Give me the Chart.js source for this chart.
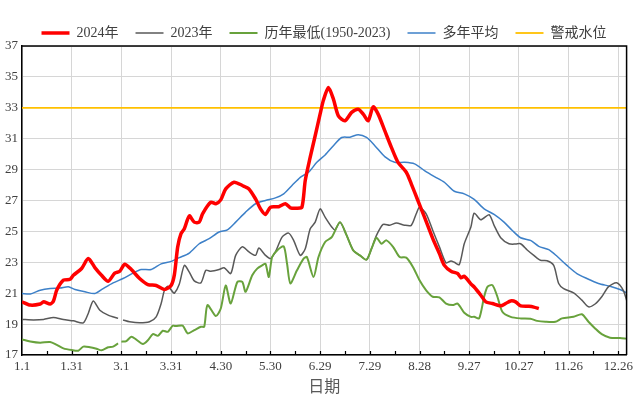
<!DOCTYPE html>
<html>
<head>
<meta charset="utf-8">
<script src="https://cdn.jsdelivr.net/npm/chart.js@4/dist/chart.umd.min.js"></script>
<style>
html, body { margin: 0; padding: 0; background: #fff; }
</style>
</head>
<body>
<canvas id="c" width="637" height="419"></canvas>
<script>
// x = day of year (0 = 1.1, leap year), values in metres
var tickLabels = ['1.1', '1.31', '3.1', '3.31', '4.30', '5.30', '6.29', '7.29', '8.28', '9.27', '10.27', '11.26', '12.26'];
var seriesNames = ['2024年', '2023年', '历年最低(1950-2023)', '多年平均', '警戒水位'];

var days2024 = [0, 5, 11, 13, 17, 19, 21, 25, 29, 31, 36, 40, 44, 48, 52, 56, 59, 62, 66, 71, 76, 81, 86, 90, 92, 94, 96, 98, 101, 104, 107, 109, 114, 117, 120, 123, 128, 133, 137, 141, 144, 147, 150, 155, 159, 162, 166, 169, 171, 174, 177, 180, 182, 185, 188, 191, 195, 199, 203, 206, 209, 212, 215, 219, 223, 227, 232, 235, 239, 243, 248, 252, 255, 259, 263, 265, 267, 271, 273, 277, 280, 284, 289, 292, 295, 298, 301, 306, 309, 312];
var level2024 = [20.44, 20.23, 20.3, 20.44, 20.3, 20.5, 21.2, 21.84, 21.9, 22.16, 22.6, 23.24, 22.66, 22.16, 21.77, 22.3, 22.42, 22.87, 22.53, 21.95, 21.56, 21.5, 21.24, 21.5, 22.2, 24.0, 24.85, 25.17, 26.0, 25.6, 25.6, 26.14, 26.89, 26.79, 27.04, 27.75, 28.18, 27.97, 27.75, 27.1, 26.46, 26.1, 26.57, 26.6, 26.79, 26.53, 26.5, 26.57, 28.29, 29.8, 31.19, 32.6, 33.5, 34.31, 33.56, 32.48, 32.16, 32.7, 32.91, 32.59, 32.16, 33.06, 32.59, 31.52, 30.44, 29.47, 28.83, 28.08, 27.0, 25.92, 24.53, 23.56, 22.8, 22.42, 22.27, 22.0, 22.1, 21.6, 21.4, 20.87, 20.44, 20.33, 20.18, 20.33, 20.5, 20.44, 20.18, 20.15, 20.1, 20.0];

var days2023 = [0, 7, 13, 19, 25, 31, 37, 40, 43, 47, 52, 58, 59, 61, 65, 71, 77, 81, 84, 86, 88, 91, 92, 95, 98, 101, 104, 108, 111, 114, 119, 122, 126, 129, 133, 137, 141, 143, 147, 150, 153, 157, 161, 164, 168, 171, 174, 177, 180, 183, 187, 189, 192, 196, 200, 204, 208, 211, 214, 218, 222, 226, 231, 235, 238, 240, 244, 248, 252, 256, 259, 261, 264, 267, 271, 273, 277, 282, 285, 289, 294, 298, 301, 305, 309, 313, 317, 321, 324, 327, 333, 338, 342, 346, 350, 354, 359, 363, 365];
var level2023 = [19.3, 19.27, 19.3, 19.43, 19.3, 19.21, 19.08, 19.69, 20.5, 19.9, 19.58, 19.37, null, 19.27, 19.15, 19.08, 19.15, 19.47, 20.33, 21.19, 21.45, 21.08, 21.0, 21.6, 22.8, 22.37, 21.8, 21.67, 22.48, 22.42, 22.53, 22.65, 22.27, 23.45, 24.0, 23.67, 23.45, 23.92, 23.45, 23.24, 23.67, 24.63, 24.89, 24.42, 23.45, 23.88, 25.17, 25.6, 26.46, 25.92, 25.28, 25.1, 25.6, 24.74, 23.77, 23.45, 23.17, 23.88, 24.74, 25.45, 25.4, 25.54, 25.4, 25.39, 26.14, 26.57, 26.14, 25.06, 24.0, 22.96, 23.09, 23.0, 22.85, 24.2, 25.28, 26.18, 25.75, 26.08, 25.39, 24.59, 24.2, 24.18, 24.2, 23.8, 23.45, 23.13, 23.1, 22.8, 21.63, 21.3, 21.02, 20.55, 20.12, 20.3, 20.77, 21.41, 21.67, 21.19, 20.55];

var daysLow = [0, 5, 11, 17, 21, 25, 30, 34, 37, 41, 45, 48, 52, 55, 58, 59, 60, 63, 66, 69, 73, 76, 79, 82, 85, 88, 91, 93, 97, 100, 104, 108, 110, 112, 117, 120, 123, 126, 130, 133, 135, 139, 142, 145, 147, 149, 151, 154, 158, 160, 162, 166, 170, 172, 176, 179, 183, 187, 192, 196, 200, 204, 208, 211, 214, 217, 220, 224, 228, 232, 236, 240, 244, 248, 252, 256, 260, 263, 267, 271, 273, 276, 279, 281, 284, 287, 290, 295, 301, 307, 311, 316, 322, 326, 333, 338, 342, 346, 350, 355, 361, 365];
var levelLow = [18.01, 17.88, 17.8, 17.84, 17.65, 17.43, 17.32, 17.28, 17.54, 17.5, 17.4, 17.3, 17.5, 17.54, 17.75, null, 17.86, 17.9, 18.18, 18.0, 17.71, 17.95, 18.35, 18.24, 18.57, 18.5, 18.89, 18.87, 18.9, 18.4, 18.61, 18.83, 18.83, 20.23, 19.52, 20.01, 21.5, 20.33, 21.73, 21.73, 21.09, 22.16, 22.59, 22.8, 22.9, 22.05, 23.34, 23.77, 24.03, 22.92, 21.63, 22.48, 23.24, 23.34, 22.05, 23.34, 24.31, 24.63, 25.6, 24.74, 23.77, 23.45, 23.17, 23.88, 24.59, 24.2, 24.42, 24.0, 23.34, 23.3, 22.7, 21.84, 21.19, 20.77, 20.73, 20.33, 20.23, 20.33, 19.73, 19.47, 19.47, 19.37, 20.77, 21.41, 21.52, 20.77, 19.8, 19.47, 19.37, 19.35, 19.21, 19.15, 19.15, 19.37, 19.47, 19.64, 19.15, 18.72, 18.35, 18.12, 18.1, 18.06];

var daysAvg = [0, 5, 11, 17, 23, 28, 32, 38, 44, 49, 55, 61, 67, 72, 78, 84, 90, 95, 101, 107, 113, 119, 124, 129, 135, 141, 147, 153, 158, 163, 168, 173, 178, 183, 188, 193, 198, 203, 208, 213, 219, 225, 231, 237, 243, 249, 255, 261, 267, 273, 279, 285, 291, 296, 301, 307, 312, 318, 323, 329, 335, 341, 348, 355, 361, 365];
var levelAvg = [20.98, 20.95, 21.19, 21.3, 21.33, 21.41, 21.24, 21.09, 20.98, 21.3, 21.67, 21.95, 22.3, 22.53, 22.53, 22.9, 23.06, 23.3, 23.6, 24.2, 24.53, 24.96, 25.1, 25.6, 26.25, 26.79, 27.0, 27.17, 27.43, 27.97, 28.5, 28.83, 29.47, 29.95, 30.55, 31.08, 31.1, 31.26, 31.08, 30.55, 29.84, 29.47, 29.47, 29.37, 28.94, 28.55, 28.18, 27.6, 27.43, 27.07, 26.46, 26.1, 25.6, 25.06, 24.59, 24.42, 24.03, 23.82, 23.39, 22.8, 22.27, 21.95, 21.63, 21.45, 21.24, 21.02];

var daysAlert = [0, 365];
var levelAlert = [33, 33];

function pts(days, vals) {
  return days.map(function (d, i) { return { x: d, y: vals[i] }; });
}

var serif = "'Liberation Serif', 'Noto Sans CJK SC', serif";

// top + right frame and small inner ticks every 15 days
var framePlugin = {
  id: 'frame',
  afterLayout: function (chart) {
    // legend sits centred over the plot area, not the whole canvas
    if (chart.legend) {
      chart.legend.left += 8;
      chart.legend.right += 8;
    }
  },
  afterDraw: function (chart) {
    var a = chart.chartArea, ctx = chart.ctx, xs = chart.scales.x;
    ctx.save();
    ctx.strokeStyle = '#000';
    ctx.lineWidth = 1.5;
    ctx.beginPath();
    ctx.moveTo(a.left, a.top); ctx.lineTo(a.right, a.top); ctx.lineTo(a.right, a.bottom);
    ctx.stroke();
    ctx.lineWidth = 1.2;
    ctx.beginPath();
    for (var d = 15; d < 365; d += 15) {
      var px = Math.round(xs.getPixelForValue(d)) + 0.5;
      ctx.moveTo(px, a.bottom); ctx.lineTo(px, a.bottom - 4);
    }
    ctx.stroke();
    ctx.restore();
  }
};

var ctx = document.getElementById('c').getContext('2d');
var myChart = new Chart(ctx, {
  type: 'line',
  data: {
    datasets: [{
      label: seriesNames[0],
      data: pts(days2024, level2024),
      borderColor: '#ff0000',
      backgroundColor: '#ff0000',
      borderWidth: 3.5,
      order: 0
    }, {
      label: seriesNames[1],
      data: pts(days2023, level2023),
      borderColor: '#595959',
      backgroundColor: '#595959',
      borderWidth: 1.5,
      order: 2
    }, {
      label: seriesNames[2],
      data: pts(daysLow, levelLow),
      borderColor: '#68a23c',
      backgroundColor: '#68a23c',
      borderWidth: 2,
      order: 1
    }, {
      label: seriesNames[3],
      data: pts(daysAvg, levelAvg),
      borderColor: '#3d80c8',
      backgroundColor: '#3d80c8',
      borderWidth: 1.5,
      order: 3
    }, {
      label: seriesNames[4],
      data: pts(daysAlert, levelAlert),
      borderColor: '#ffc000',
      backgroundColor: '#ffc000',
      borderWidth: 1.8,
      tension: 0,
      order: 4
    }]
  },
  options: {
    responsive: false,
    animation: false,
    spanGaps: false,
    layout: { padding: { top: 9, right: 5, bottom: 22, left: 0 } },
    elements: {
      point: { radius: 0, hoverRadius: 0 },
      line: { tension: 0.25 }
    },
    plugins: {
      tooltip: { enabled: false },
      legend: {
        position: 'top',
        maxHeight: 37,
        labels: {
          usePointStyle: true,
          pointStyle: 'line',
          pointStyleWidth: 28,
          boxHeight: 14,
          padding: 17,
          color: '#404040',
          font: { family: serif, size: 14 },
          sort: function (a, b) { return a.datasetIndex - b.datasetIndex; }
        }
      }
    },
    scales: {
      x: {
        type: 'linear',
        min: 0,
        max: 365,
        afterFit: function (scale) { scale.height = 42; },
        afterBuildTicks: function (scale) {
          scale.ticks = tickLabels.map(function (t, i) { return { value: i * 30 }; });
        },
        ticks: {
          autoSkip: false,
          maxRotation: 0,
          padding: 4,
          color: '#404040',
          font: { family: serif, size: 13 },
          callback: function (v) { return tickLabels[Math.round(v / 30)]; }
        },
        grid: { color: '#d6d6d6', lineWidth: 1, drawTicks: false },
        border: { color: '#000', width: 1.5 },
        title: {
          display: true,
          text: '日期',
          color: '#595959',
          font: { family: serif, size: 16 },
          padding: { top: 4, bottom: 0 }
        }
      },
      y: {
        min: 17,
        max: 37,
        afterFit: function (scale) { scale.width = 22; },
        ticks: {
          stepSize: 2,
          padding: 4,
          color: '#404040',
          font: { family: serif, size: 13 }
        },
        grid: { color: '#d6d6d6', lineWidth: 1, drawTicks: false },
        border: { color: '#000', width: 1.5 }
      }
    }
  },
  plugins: [framePlugin]
});
</script>
</body>
</html>
